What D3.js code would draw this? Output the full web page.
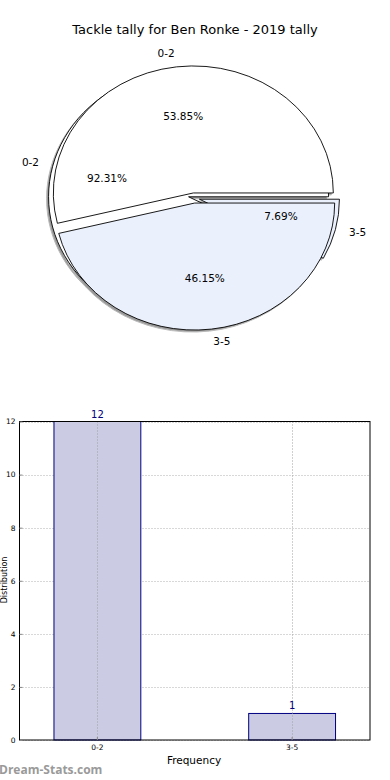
<!DOCTYPE html>
<html>
<head>
<meta charset="utf-8">
<script src="https://cdn.jsdelivr.net/npm/d3@7"></script>
<style>
  body { margin: 0; background: #fff; }
  text { font-family: "DejaVu Sans", sans-serif; }
</style>
</head>
<body>
<script>
const categories = ["0-2", "3-5"];
const tackleCounts = [12, 1];   // outer pie and the bars
const splitCounts = [7, 6];     // second pie laid on top
const yTicks = [0, 2, 4, 6, 8, 10, 12];
const sliceColors = ["#ffffff", "#eaf0fc"];

const svg = d3.select("body").append("svg")
  .attr("width", 390)
  .attr("height", 780);

svg.append("text")
  .attr("x", 195)
  .attr("y", 30)
  .attr("text-anchor", "middle")
  .attr("dominant-baseline", "middle")
  .style("font-size", "13px")
  .text("Tackle tally for Ben Ronke - 2019 tally");

// pie geometry (matplotlib pie without equal aspect -> ellipse)
const cx = 194, cy = 198, rx = 140, ry = 127;
const explode = 0.04;

const pie = d3.pie()
  .sort(null)
  .startAngle(Math.PI / 2)
  .endAngle(Math.PI / 2 - 2 * Math.PI);

const arc = d3.arc().innerRadius(0).outerRadius(1);

const makeSlices = values => {
  const total = d3.sum(values);
  return pie(values).map((d, i) => {
    const mid = (d.startAngle + d.endAngle) / 2;
    const ux = Math.sin(mid), uy = -Math.cos(mid);
    return {
      ...d,
      cat: categories[i],
      color: sliceColors[i],
      pct: (d.value / total * 100).toFixed(2) + "%",
      ux, uy,
      ox: cx + explode * rx * ux,
      oy: cy + explode * ry * uy
    };
  });
};

const sliceA = makeSlices(tackleCounts);
const sliceB = makeSlices(splitCounts);
const allSlices = sliceA.concat(sliceB);

// shadows go under everything
svg.append("g").selectAll("path")
  .data(allSlices)
  .join("path")
  .attr("d", arc)
  .attr("transform", d => `translate(${d.ox - 2},${d.oy + 2}) scale(${rx},${ry})`)
  .attr("fill", "#9a9a9a")
  .attr("stroke", "#bbb")
  .attr("stroke-width", 1)
  .attr("vector-effect", "non-scaling-stroke");

[sliceA, sliceB].forEach(set => {
  svg.append("g").selectAll("path")
    .data(set)
    .join("path")
    .attr("d", arc)
    .attr("transform", d => `translate(${d.ox},${d.oy}) scale(${rx},${ry})`)
    .attr("fill", d => d.color)
    .attr("stroke", "#000")
    .attr("stroke-width", 0.9)
    .attr("stroke-linejoin", "miter")
    .attr("vector-effect", "non-scaling-stroke");
});

const pieText = svg.append("g").style("font-size", "10.5px");

pieText.selectAll("text.label")
  .data(allSlices)
  .join("text")
  .attr("class", "label")
  .attr("x", d => d.ox + 1.1 * rx * d.ux)
  .attr("y", d => d.oy + 1.1 * ry * d.uy)
  .attr("text-anchor", d => d.ux > 0 ? "start" : "end")
  .attr("dominant-baseline", "middle")
  .text(d => d.cat);

pieText.selectAll("text.pct")
  .data(allSlices)
  .join("text")
  .attr("class", "pct")
  .attr("x", d => d.ox + 0.6 * rx * d.ux)
  .attr("y", d => d.oy + 0.6 * ry * d.uy)
  .attr("text-anchor", "middle")
  .attr("dominant-baseline", "middle")
  .text(d => d.pct);

// bar chart
const plotL = 19.5, plotR = 370, plotT = 421.5, plotB = 740;

const x = d3.scaleBand()
  .domain(categories)
  .range([plotL, plotR])
  .paddingInner(0.554)
  .paddingOuter(0.177);

const y = d3.scaleLinear()
  .domain([0, 12])
  .range([plotB, plotT]);

const grid = svg.append("g")
  .attr("stroke", "#b0b0b0")
  .attr("stroke-width", 1)
  .attr("stroke-dasharray", "1,2");

grid.selectAll("line")
  .data(yTicks)
  .join("line")
  .attr("x1", plotL)
  .attr("x2", plotR)
  .attr("y1", d => Math.round(y(d)) + 0.5)
  .attr("y2", d => Math.round(y(d)) + 0.5);

svg.append("g").selectAll("rect")
  .data(tackleCounts)
  .join("rect")
  .attr("x", (d, i) => x(categories[i]))
  .attr("y", d => y(d))
  .attr("width", x.bandwidth())
  .attr("height", d => plotB - y(d))
  .attr("fill", "#cbcbe3")
  .attr("stroke", "#000080")
  .attr("stroke-width", 1);

svg.append("g")
  .attr("stroke", "#a0a0a0")
  .attr("stroke-dasharray", "1,2")
  .selectAll("line")
  .data(categories)
  .join("line")
  .attr("x1", d => Math.round(x(d) + x.bandwidth() / 2) + 0.5)
  .attr("x2", d => Math.round(x(d) + x.bandwidth() / 2) + 0.5)
  .attr("y1", plotT)
  .attr("y2", plotB);

svg.append("g").selectAll("text")
  .data(tackleCounts)
  .join("text")
  .attr("x", (d, i) => x(categories[i]) + x.bandwidth() / 2)
  .attr("y", d => y(d) - 4)
  .attr("text-anchor", "middle")
  .attr("fill", "#000080")
  .style("font-size", "10px")
  .text(d => d);

svg.append("rect")
  .attr("x", plotL)
  .attr("y", plotT)
  .attr("width", plotR - plotL)
  .attr("height", plotB - plotT)
  .attr("fill", "none")
  .attr("stroke", "#000")
  .attr("stroke-width", 1);

const yAxis = svg.append("g")
  .attr("transform", `translate(${plotL},0)`)
  .call(d3.axisLeft(y).tickValues(yTicks).tickSize(-3).tickPadding(4));
yAxis.select(".domain").remove();
yAxis.selectAll("line").attr("stroke", "#888");
yAxis.selectAll("text").style("font-size", "7.5px").style("font-family", "DejaVu Sans");

const xAxis = svg.append("g")
  .attr("transform", `translate(0,${plotB})`)
  .call(d3.axisBottom(x).tickSize(-3).tickPadding(5));
xAxis.select(".domain").remove();
xAxis.selectAll("line").attr("stroke", "#888");
xAxis.selectAll("text").style("font-size", "7.5px").style("font-family", "DejaVu Sans");

svg.append("text")
  .attr("x", 194)
  .attr("y", 764)
  .attr("text-anchor", "middle")
  .style("font-size", "10.5px")
  .text("Frequency");

svg.append("text")
  .attr("transform", "translate(7,580) rotate(-90)")
  .attr("text-anchor", "middle")
  .style("font-size", "8px")
  .text("Distribution");

svg.append("text")
  .attr("x", -1)
  .attr("y", 774)
  .attr("fill", "#9a9a9a")
  .style("font-size", "12px")
  .style("font-weight", "bold")
  .style("font-family", "Open Sans, DejaVu Sans, sans-serif")
  .text("Dream-Stats.com");
</script>
</body>
</html>
